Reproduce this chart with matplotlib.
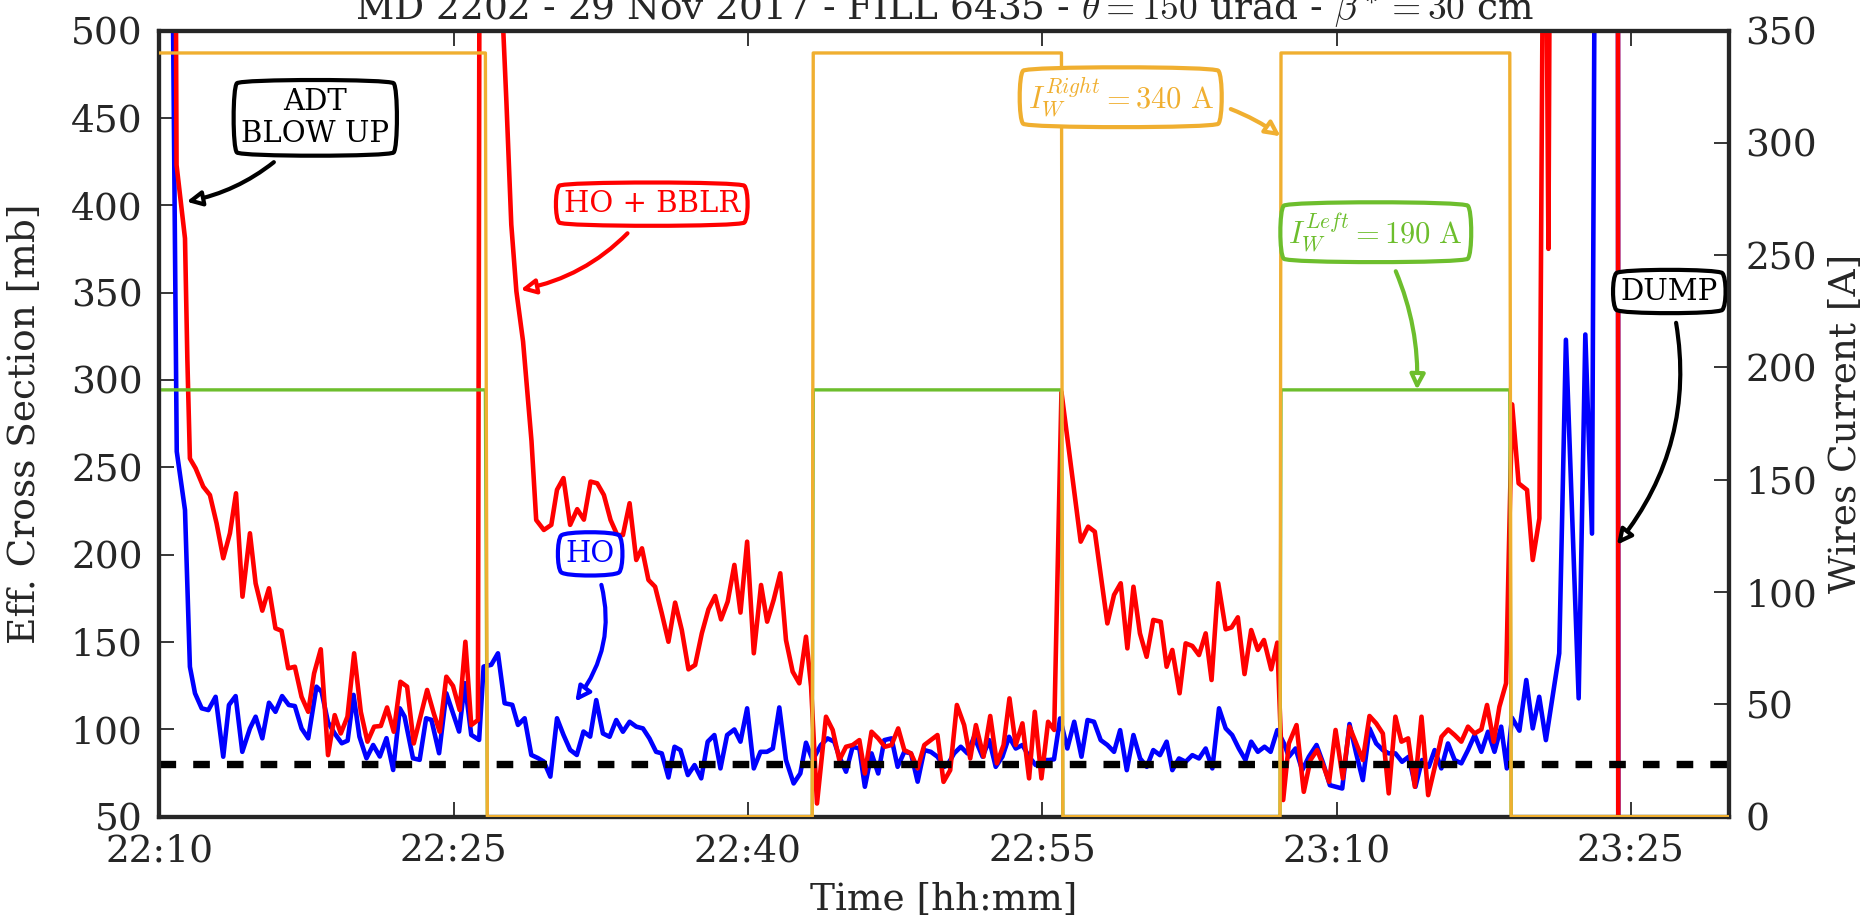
import matplotlib
matplotlib.use('Agg')
import matplotlib.pyplot as plt

plt.rcParams['font.family'] = ['DejaVu Serif']
plt.rcParams['mathtext.fontset'] = 'cm'

# ---------------- data (minutes after 22:10) ----------------
ho_t = [0.55, 0.89, 1.31, 1.56, 1.82, 2.16, 2.5, 2.87, 3.26, 3.55, 3.89, 4.23, 4.62, 4.91, 5.25, 5.59,
        5.92, 6.26, 6.6, 6.91, 7.25, 7.59, 8.01, 8.27, 8.6, 8.94, 9.3, 9.6, 9.9, 10.2, 10.56, 10.9,
        11.24, 11.58, 11.92, 12.26, 12.5, 12.93, 13.27, 13.6, 13.87, 14.26, 14.63, 14.97, 15.28, 15.57,
        15.9, 16.3, 16.53, 16.92, 17.26, 17.6, 17.99, 18.28, 18.62, 18.96, 19.3, 19.6, 19.93, 20.27,
        20.6, 20.94, 21.28, 21.62, 21.96, 22.27, 22.61, 22.95, 23.29, 23.63, 23.97, 24.31, 24.65, 24.98,
        25.32, 25.61, 25.95, 26.26, 26.56, 26.94, 27.28, 27.62, 27.95, 28.29, 28.6, 28.94, 29.31, 29.62,
        29.96, 30.3, 30.64, 30.97, 31.27, 31.6, 31.94, 32.33, 32.67, 32.96, 33.3, 33.72, 34.06, 34.4,
        34.66, 35.0, 35.34, 35.68, 35.96, 36.3, 36.64, 36.95, 37.32, 37.63, 37.97, 38.31, 38.65, 38.99,
        39.32, 39.66, 40.0, 40.17, 40.51, 40.85, 41.19, 41.53, 41.96, 42.3, 42.63, 42.97, 43.31, 43.65,
        43.99, 44.33, 44.67, 45.01, 45.35, 45.6, 45.91, 46.28, 46.63, 47.0, 47.31, 47.64, 47.98, 48.32,
        48.66, 48.97, 49.31, 49.65, 49.99, 50.33, 50.66, 51.0, 51.34, 51.63, 51.97, 52.31, 52.65, 52.99,
        53.33, 53.67, 54.01, 54.35, 54.68, 55.02, 55.36, 55.65, 55.99, 56.33, 56.64, 56.98, 57.32, 57.57,
        57.91, 58.25, 58.59, 58.98, 59.32, 59.66, 60.29, 60.66, 61.0, 61.34, 61.68, 62.02, 62.36, 62.66,
        63.0, 63.34, 63.68, 64.02, 64.36, 64.7, 65.0, 65.34, 65.68, 66.02, 66.36, 66.7, 67.04, 67.38,
        67.72, 68.05, 68.39, 68.68, 68.94, 69.32, 69.67, 70.0, 70.33, 70.67, 71.01, 71.35, 71.69, 72.34,
        72.68, 73.02, 73.3, 74.3, 74.36]
ho_v = [700, 259, 225.5, 135.8, 120.6, 112, 111, 118.6, 84.3, 113.9, 119, 87.1, 100.5, 107.2, 94.8, 115.2,
        110, 119, 113.9, 113.3, 100.5, 94.8, 124.4, 121.5, 104, 97.6, 92, 93.5, 119.7, 95.8, 83.4, 91,
        84.4, 94.9, 76.7, 112, 107.3, 83.4, 82.5, 106.3, 105.4, 86.3, 120.6, 109.2, 98.7, 126.4,
        96.8, 93.9, 135.9, 136.9, 143.5, 114.9, 114, 102.5, 106.3, 85.3, 83.5, 81.5, 72.9, 106.3,
        96.8, 88.2, 85.3, 98.7, 95.8, 116.7, 97.6, 95.7, 105.3, 98.6, 104.3, 101.5, 100.5, 94.8,
        87.1, 86.2, 72.4, 90, 88.1, 73.8, 79.5, 71.9, 92.9, 96.7, 77.6, 96.7, 99.9, 92.9,
        112, 77.6, 87.1, 87.1, 89, 112.5, 82.4, 69, 74.7, 92.3, 82.4, 91, 94.8, 92.9,
        84.3, 75.7, 90, 89, 67.1, 86.2, 74.7, 93.8, 94.8, 78.5, 87.1, 86.2, 70, 88.1,
        87.1, 84.3, 78.5, 79.5, 86.2, 90, 86.2, 95.7, 84.3, 93.8, 78.5, 84.3, 95.7, 89,
        91, 84.3, 79.5, 82.4, 82.4, 82.8, 106.2, 89, 104.3, 84.3, 105.3, 104.3, 93.8, 91,
        87.1, 99.5, 76.6, 96.7, 83.3, 78.5, 88.1, 85.2, 92.9, 76.6, 83.3, 81.4, 85.2, 83.3,
        89, 77.6, 112, 100.5, 96.7, 89, 82.4, 92.9, 87.1, 90, 87.1, 99.5, 91.9, 84.3,
        89, 76.6, 84.3, 91, 80.5, 68, 66.1, 103, 86.2, 70.9, 100.5, 91.9, 88.1, 86.2,
        86.2, 81.4, 84.3, 67.1, 82.4, 78.5, 88.1, 77.6, 91.9, 82.4, 80.5, 88.1, 96.7, 87.1,
        98.6, 87.1, 101.5, 77.6, 106.6, 99.2, 128.2, 100.5, 118.6, 93.8, 118.6, 143.5, 323, 117.7,
        326, 212, 900, 2000, 0]

bblr_t = [0.78, 0.88, 1.31, 1.43, 1.56, 1.85, 2.24, 2.58, 2.92, 3.26, 3.6, 3.91, 4.24, 4.62, 4.91, 5.25,
          5.59, 5.92, 6.23, 6.57, 6.91, 7.25, 7.59, 7.89, 8.23, 8.6, 8.94, 9.25, 9.59, 9.93, 10.27,
          10.61, 10.95, 11.29, 11.61, 11.95, 12.29, 12.63, 12.97, 13.31, 13.65, 13.99, 14.29, 14.63,
          14.97, 15.31, 15.6, 15.9, 16.24, 16.4, 17.45, 17.52, 17.69, 17.94, 18.2, 18.54, 18.97, 19.21,
          19.6, 19.98, 20.27, 20.6, 20.94, 21.3, 21.64, 21.98, 22.32, 22.66, 23.0, 23.34, 23.63, 23.97,
          24.31, 24.6, 24.93, 25.27, 25.61, 25.95, 26.29, 26.63, 26.97, 27.31, 27.65, 27.99, 28.33,
          28.63, 28.97, 29.31, 29.62, 29.96, 30.3, 30.67, 30.98, 31.31, 31.65, 31.94, 32.28, 32.62,
          32.96, 33.22, 33.52, 33.98, 34.32, 34.66, 35.0, 35.34, 35.68, 35.96, 36.3, 36.64, 36.98,
          37.32, 37.66, 37.97, 38.31, 38.65, 38.99, 39.32, 39.66, 39.97, 40.31, 40.65, 41.02, 41.33,
          41.62, 42.01, 42.35, 42.69, 43.03, 43.33, 43.65, 43.99, 44.33, 44.62, 44.96, 45.3, 45.61,
          45.98, 46.96, 47.34, 47.68, 48.32, 48.66, 49.0, 49.34, 49.65, 49.98, 50.32, 50.66, 51.04,
          51.34, 51.63, 52.0, 52.31, 52.65, 52.99, 53.33, 53.63, 53.97, 54.35, 54.65, 54.97, 55.31,
          55.65, 55.99, 56.3, 56.67, 56.98, 57.28, 57.57, 57.96, 58.33, 58.67, 59.01, 59.35, 59.62,
          59.95, 60.32, 60.66, 61.0, 61.34, 61.68, 62.02, 62.36, 62.66, 63.0, 63.31, 63.65, 63.99,
          64.33, 64.67, 65.01, 65.35, 65.69, 66.02, 66.36, 66.7, 67.04, 67.38, 67.67, 68.01, 68.3,
          68.64, 68.78, 68.95, 69.28, 69.71, 70.0, 70.34, 70.6, 70.8, 71.0, 74.3, 74.36]
bblr_v = [700, 423, 381, 312, 255, 249.4, 238.9, 234.1, 217.9, 197.9, 212.2, 235.1, 175.9, 212.2, 183.5, 167.9,
          180.7, 157.8, 156.4, 134.9, 135.8, 118.6, 110, 132, 145.8, 85.2, 108.1, 97.6, 107.2, 143.5, 110,
          92.9, 101.5, 101.9, 112.5, 98.6, 127.2, 124.4, 91.9, 107.2, 122.5, 109.1, 98.6, 130.1,
          124.8, 111, 150.1, 102.4, 105.3, 1000, 900, 503, 459.5, 388.9, 350.7, 322, 265, 219.8,
          214.1, 217, 237.1, 243.8, 217, 226, 220, 241.8, 240.8, 234.1, 219.8, 211.2, 211.2, 229.4,
          196.9, 203.6, 185.5, 181.6, 166.4, 150.1, 172.5, 156.8, 134.3, 136.8, 154.9, 168.7, 176.3,
          162.9, 173.1, 194.1, 166.8, 207.4, 143.5, 182.6, 161.6, 174, 189.3, 151.1, 133, 126.3,
          153, 124.4, 57.5, 107.2, 99.6, 82.4, 90, 91, 93.8, 74.7, 98.6, 94.8, 90,
          91, 100.5, 88.1, 86.2, 77.6, 91, 93.8, 96.7, 69.9, 76.6, 113.9, 102.4, 83.3,
          102.4, 84.3, 107.6, 80.5, 91, 117.7, 91, 103.4, 71.9, 110, 71.9, 104.3, 99.6,
          293, 207.4, 216, 213.1, 160.6, 176.9, 183.6, 146.3, 181.6, 154.9, 141.5, 162.6, 161.6,
          135.8, 145.4, 120.6, 149.2, 147.7, 142.5, 154.9, 128.2, 183.6, 157.2, 158.3, 164.1, 131.6,
          156.8, 145.4, 151.1, 134.3, 149.6, 59.5, 91.9, 102.4, 64.2, 82.4, 88.1, 78.5, 69.9,
          99.6, 71.9, 101.5, 91.9, 82.4, 107.6, 103.4, 97.6, 63.3, 107.2, 92.9, 94.8, 67.1,
          107.2, 62.3, 78.5, 95.7, 99.9, 96.7, 92.9, 101.5, 97.6, 99.9, 113.9, 92.9, 112.9,
          126.3, 200.7, 286, 240.8, 237, 196.9, 220.8, 700, 375, 900, 2000, 0]

wire_t = [0, 16.62, 16.72, 33.28, 33.33, 45.98, 46.05, 57.12, 57.17, 68.83, 68.9, 80]
wire_right = [340, 340, 0, 0, 340, 340, 0, 0, 340, 340, 0, 0]
wire_left = [190, 190, 0, 0, 190, 190, 0, 0, 190, 190, 0, 0]

ho_reference = 80
xtick_pos = [0, 15, 30, 45, 60, 75]
xtick_labels = ['22:10', '22:25', '22:40', '22:55', '23:10', '23:25']

RED = '#ff0000'
BLUE = '#0000ff'
ORANGE = '#f0af30'
GREEN = '#6dbe2d'
DARK = '#262626'

fig = plt.figure(figsize=(18.74, 9.19), dpi=100)
ax = fig.add_axes([0.0850, 0.1114, 0.8376, 0.8554])
ax2 = ax.twinx()

ax.plot(ho_t, ho_v, color=BLUE, lw=3.3, zorder=2)
ax.plot(bblr_t, bblr_v, color=RED, lw=3.3, zorder=3)
ax.axhline(ho_reference, color='black', lw=5.3, dashes=(2.26, 2.32), zorder=4)

ax2.plot(wire_t, wire_left, color=GREEN, lw=2.4, zorder=2)
ax2.plot(wire_t, wire_right, color=ORANGE, lw=2.4, zorder=3)

ax.set_xlim(0, 80)
ax.set_ylim(50, 500)
ax2.set_ylim(0, 350)
ax.set_xticks(xtick_pos)
ax.set_xticklabels(xtick_labels)
ax.set_yticks(range(50, 501, 50))
ax2.set_yticks(range(0, 351, 50))

for a in (ax, ax2):
    for s in a.spines.values():
        s.set_linewidth(3.0)
        s.set_color(DARK)
ax.tick_params(axis='both', direction='in', length=11, width=1.3, colors=DARK,
               labelsize=27, pad=12, top=True)
ax2.tick_params(axis='y', direction='in', length=11, width=1.3, colors=DARK,
                labelsize=27, pad=12)

ax.set_ylabel('Eff. Cross Section [mb]', fontsize=27, color=DARK, labelpad=20)
ax2.set_ylabel('Wires Current [A]', fontsize=27, color=DARK, labelpad=8)
ax.set_xlabel('Time [hh:mm]', fontsize=27, color=DARK, labelpad=9)
ax.set_title(r'MD 2202 - 29 Nov 2017 - FILL 6435 - $\theta = 150$ urad - $\beta^* = 30$ cm',
             fontsize=27, color=DARK, pad=8)


def note(axis, text, xy, xytext, color, rad, size=21):
    axis.annotate(text, xy=xy, xytext=xytext, ha='center', va='center', fontsize=size,
                  color=color, zorder=10,
                  bbox=dict(boxstyle='round4,pad=0.3', fc='white', ec=color, lw=3.0),
                  arrowprops=dict(arrowstyle='-|>', color=color, fc='white', lw=3.0,
                                  mutation_scale=22, shrinkA=6, shrinkB=0,
                                  connectionstyle='arc3,rad=%s' % rad))


note(ax, 'ADT\nBLOW UP', (1.39, 402), (7.95, 450), 'black', -0.2)
note(ax, 'HO + BBLR', (18.41, 351.6), (25.1, 400.6), RED, -0.2)
note(ax, 'HO', (21.2, 115.8), (21.96, 200.4), BLUE, -0.3)
note(ax, 'DUMP', (74.29, 205.6), (76.96, 350.6), 'black', -0.25)
note(ax2, r'$I_W^{Right} = 340\ \mathrm{A}$', (57.15, 302.9), (49.0, 320.3), ORANGE, -0.2, size=22)
note(ax2, r'$I_W^{Left} = 190\ \mathrm{A}$', (64.1, 190), (62.0, 260.2), GREEN, -0.15, size=22)

fig.savefig('out.png', dpi=100)
